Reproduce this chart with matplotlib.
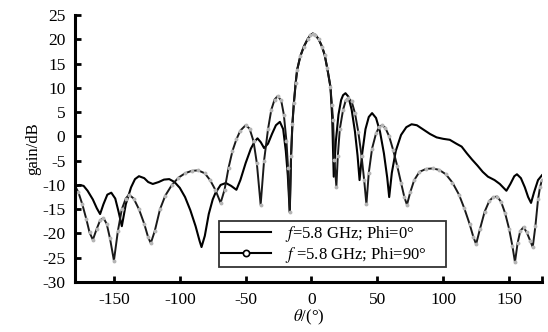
import numpy as np
import matplotlib
matplotlib.use('Agg')
import matplotlib.pyplot as plt
from matplotlib.lines import Line2D

plt.rcParams['font.family'] = ['Liberation Serif', 'DejaVu Serif']
plt.rcParams['mathtext.fontset'] = 'stix'
plt.rcParams['axes.unicode_minus'] = False

# Phi = 0 cut (solid line)
theta0 = [-180, -176, -173, -170, -166, -163, -160.5, -158, -155, -152, -149, -146.5, -144,
          -141, -137, -134, -131, -127, -124, -120.5, -116, -112, -108, -104, -100, -96,
          -92, -88, -85, -83.5, -81, -78, -75, -73, -69, -65, -61, -57, -54, -50, -46,
          -43, -41, -38.5, -36, -33, -30, -27, -24, -21.5, -19.5, -18, -16.5,
          -15.5, -14.5, -13.4, -12, -10.9, -8.5, -5.8, -3, -1, 1, 3, 5.5, 8, 10, 12, 14.4,
          15.7, 16.9, 18.5, 20.5, 22.5, 24, 25.8, 28, 30.5, 33, 35, 36.5, 38.5, 41, 43.5,
          46, 49, 52, 55, 57.5, 59, 61, 64, 68, 72, 76, 80, 85, 90, 95, 100, 105, 110,
          114, 118, 122, 126, 130, 134, 139, 143, 148, 151, 154, 156, 159, 162, 164.5,
          166.7, 169, 172, 175]
gain0 = [-10.4, -10.0, -10.2, -11.2, -13.0, -14.8, -16.0, -14.0, -12.0, -11.6, -12.8, -15.5, -18.5,
         -14.0, -10.5, -8.8, -8.2, -8.6, -9.4, -9.8, -9.4, -8.9, -8.8, -9.4, -10.6, -12.5,
         -15.2, -18.5, -21.5, -22.8, -20.5, -16.0, -13.0, -11.7, -10.0, -9.6, -10.2, -11.0, -9.0, -5.5, -2.5,
         -1.0, -0.4, -1.2, -2.4, -1.5, 0.5, 2.3, 3.0, 1.5, -3.0, -8.0, -15.6,
         -4.0, 2.5, 6.8, 11.0, 13.7, 16.5, 18.5, 20.0, 20.8, 21.2, 20.9, 20.0, 18.5, 16.8, 14.0, 10.2,
         4.0, -8.3, -1.0, 4.5, 7.5, 8.5, 8.9, 8.2, 5.5, 1.0, -4.0, -9.0, -3.5, 1.5, 4.0,
         4.8, 3.8, 1.0, -3.5, -8.5, -12.5, -7.5, -3.0, 0.3, 1.9, 2.5, 2.3, 1.4, 0.5, -0.2, -0.5, -0.7, -1.5,
         -2.1, -3.5, -4.8, -6.0, -7.3, -8.3, -9.0, -9.8, -11.2, -9.8, -8.2, -7.8, -8.6, -10.5, -12.5,
         -13.7, -11.5, -9.0, -8.0]

# Phi = 90 cut (line with markers)
theta90 = [-180, -177, -174, -171, -168.5, -166, -163, -160.5, -158, -155.5, -153, -150, -147,
           -144, -141, -138.6, -135, -131, -127, -124, -122, -119, -115, -111, -106, -101,
           -96, -91, -86, -81, -77, -73, -69, -66, -63, -60, -57, -54, -50, -47, -44,
           -41.5, -38.6, -36, -33, -30.5, -28, -25.7, -23, -21, -19, -17.8, -16.5,
           -15.5, -14.5, -13.4, -12, -10.9, -8.5, -5.8, -3, -1, 1, 3, 5.5, 8, 10, 12, 14.4,
           15.5, 16.4, 17.4, 18.9, 20, 21.5, 24, 26, 28, 30.5, 33, 35.5, 38, 40, 41.7,
           43.5, 46, 49, 51.5, 53.6, 56, 59, 62, 65, 68, 70.5, 72.5, 75, 78, 82, 87, 92,
           97, 102, 107, 112, 116, 120, 123, 125, 128, 131.5, 135, 138, 141, 144, 147,
           150, 152.5, 154.5, 156.5, 158.5, 161, 163.5, 166, 168, 170, 172, 173.5, 175]
gain90 = [-10.0, -11.5, -14.0, -17.0, -19.8, -21.3, -19.0, -17.3, -16.8, -18.0, -21.0, -25.6, -19.5,
          -15.0, -12.8, -12.0, -12.8, -15.0, -18.0, -20.8, -22.0, -19.5, -15.0, -12.2, -10.0, -8.5,
          -7.6, -7.1, -7.0, -7.6, -9.0, -11.0, -13.7, -11.0, -6.5, -3.0, -0.6, 1.2, 2.3, 1.6, -1.0,
          -5.5, -14.1, -5.0, 1.5, 5.5, 7.6, 8.3, 7.4, 4.5, -1.0, -6.5, -15.6,
          -4.0, 2.5, 6.8, 11.0, 13.7, 16.5, 18.5, 20.0, 20.8, 21.2, 20.9, 20.0, 18.5, 16.8, 14.0, 10.2,
          6.5, 3.4, -4.9, -10.4, -4.0, 1.5, 5.5, 7.4, 7.9, 7.2, 4.8, 1.0, -4.0, -9.0, -14.0,
          -7.5, -2.5, 0.6, 2.0, 2.3, 1.8, 0.0, -2.8, -6.0, -9.5, -12.5, -14.1, -11.5, -9.0, -7.3, -6.7, -6.6,
          -6.9, -7.8, -9.5, -12.0, -14.8, -18.0, -20.8, -22.2, -19.0, -15.5, -13.3, -12.5, -12.4, -13.5, -15.8,
          -19.0, -22.5, -25.9, -22.0, -19.5, -18.7, -19.8, -21.5, -22.8, -18.5, -13.0, -10.5, -9.0]

label0 = r'$f$=5.8 GHz; Phi=0°'
label90 = r'$f$ =5.8 GHz; Phi=90°'

fig = plt.figure(figsize=(5.48, 3.32), dpi=100)
ax = fig.add_axes([0.137, 0.1506, 0.852, 0.804])

ax.plot(theta0, gain0, color='black', lw=1.5)
ax.plot(theta90, gain90, color='#1a1a1a', lw=1.4, marker='o', ms=1.8,
        mfc='#b5b5b5', mec='#b5b5b5')

ax.set_xlim(-179.5, 175)
ax.set_ylim(-30, 25)
ax.set_xticks([-150, -100, -50, 0, 50, 100, 150])
ax.set_xticks([175], minor=True)
ax.set_yticks(np.arange(-30, 26, 5))

for s in ['top', 'right']:
    ax.spines[s].set_visible(False)
for s in ['left', 'bottom']:
    ax.spines[s].set_linewidth(2.2)
ax.tick_params(which='both', direction='in', length=4, width=2, labelsize=12.5, pad=7)

ax.set_ylabel('gain/dB', fontsize=12, labelpad=1)
ax.set_xlabel(r'$\theta$/(°)', fontsize=12, labelpad=0)

handles = [Line2D([], [], color='black', lw=1.5),
           Line2D([], [], color='black', lw=1.5, marker='o', ms=4.5, mfc='white', mec='black', mew=1.2)]
leg = ax.legend(handles, [label0, label90], loc='lower left',
                bbox_to_anchor=(0.308, 0.056, 0.487, 0.15), mode='expand',
                fontsize=12, handlelength=3.0, frameon=True, fancybox=False,
                borderpad=0.15, labelspacing=0.05, handletextpad=0.8, borderaxespad=0)
leg.get_frame().set_edgecolor('black')
leg.get_frame().set_linewidth(1.3)

plt.savefig('out.png', dpi=100)
